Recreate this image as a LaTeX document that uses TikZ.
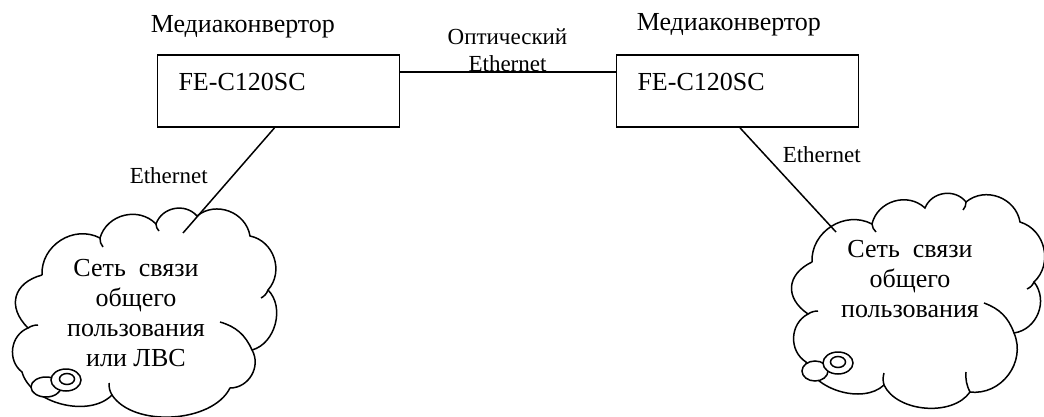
\documentclass[tikz,border=0pt]{standalone}
\usepackage{fontspec}
\setmainfont{Liberation Serif}
\begin{document}
\begin{tikzpicture}[x=1pt,y=-1pt,line width=1.5pt,
  box/.style={draw,line width=1.7pt,text width=200pt,inner xsep=21pt,inner ysep=0pt,
    text height=36pt,text depth=36pt,align=left,font=\fontsize{26}{30}\selectfont},
  lbl/.style={inner sep=0pt,font=\fontsize{26}{30}\selectfont},
  eth/.style={inner sep=0pt,font=\fontsize{23}{27}\selectfont},
  ctext/.style={inner sep=0pt,align=center,font=\fontsize{26}{30}\selectfont},
  bump/.style={bend left=60,looseness=1.1},
  hook/.style={bend left=25},
  shell/.style={fill=white,line width=1.5pt}]
\useasboundingbox (0,0) rectangle (1044,417);
\fill[white] (0,0) rectangle (1044,417);

% boxes
\node[box] (b1) at (278.5,91) {FE-C120SC};
\node[box] (b2) at (737.5,91) {FE-C120SC};
\node[lbl,anchor=base west] (m1) at (150,33) {Медиаконвертор};
\node[lbl,anchor=base west] (m2) at (636,31) {Медиаконвертор};

% optical link
\draw (b1.east) ++(0,-19) coordinate (o1) -- (o1 -| b2.west);
\node[eth,align=center,anchor=base] (opt) at (507.5,72) {Оптический\\Ethernet};

% left cloud
\draw (42,275) to[bump] (100,238) to[bump] (156,224) to[bump] (197,216)
  to[bump] (250,236) to[bump] (268,290) to[bump,looseness=1.0] (252,350)
  to[bump,looseness=1.1] (230,388) to[bump,looseness=0.85] (112,395)
  to[bump,looseness=0.9] (22,372) to[bump] (28,328) to[bump,looseness=1.4] (42,275);
\draw (100,238) to[bend right=20] (103,247);
\draw (156,224) to[bend right=20] (159,231);
\draw (268,290) to[bend left=20] (261,298);
\draw (220,322) to[hook] (252,350);
\draw (112,395) to[bend left=15] (109,383);
\draw (28,328) to[bend left=15] (38,325);
\draw[shell] (46,387) ellipse[x radius=15,y radius=10];
\draw[shell] (66,380) ellipse[x radius=15,y radius=11];
\draw (67,379) ellipse[x radius=7.5,y radius=5.5];
\node[ctext,anchor=base] (t1) at (136,366) {Сеть~~связи\\общего\\пользования\\или ЛВС};

% right cloud
\draw (812,262) to[bump] (872,224) to[bump] (925,208) to[bump] (966,202)
  to[bump] (1020,222) to[bump] (1034,282) to[bump] (1014,333)
  to[bump,looseness=1.1] (970,392) to[bump,looseness=0.9] (884,385)
  to[bump,looseness=0.9] (806,362) to[bump] (808,314) to[bump,looseness=1.4] (812,262);
\draw (872,224) to[bend right=20] (876,232);
\draw (966,202) to[bend left=20] (963,210);
\draw (1034,282) to[bend left=20] (1027,289);
\draw (984,303) to[hook] (1014,333);
\draw (970,392) to[bend left=15] (966,372);
\draw (884,385) to[bend left=15] (884,373);
\draw (808,314) to[bend left=15] (818,311);
\draw[shell] (815,371) ellipse[x radius=13,y radius=10];
\draw[shell] (838,363) ellipse[x radius=15,y radius=11];
\draw (838,362) ellipse[x radius=7.5,y radius=5.5];
\node[ctext,anchor=base] (t2) at (910,317) {Сеть~~связи\\общего\\пользования};

% ethernet links
\coordinate (c1) at (183,233);
\coordinate (c2) at (836,232);
\draw (b1.south) ++(-4,0) coordinate (s1) -- (c1);
\draw (b2.south) ++(2.5,0) coordinate (s2) -- (c2);
\node[eth,anchor=base west] (e1) at (129,183) {Ethernet};
\node[eth,anchor=base west] (e2) at (782,163) {Ethernet};
\end{tikzpicture}
\end{document}
